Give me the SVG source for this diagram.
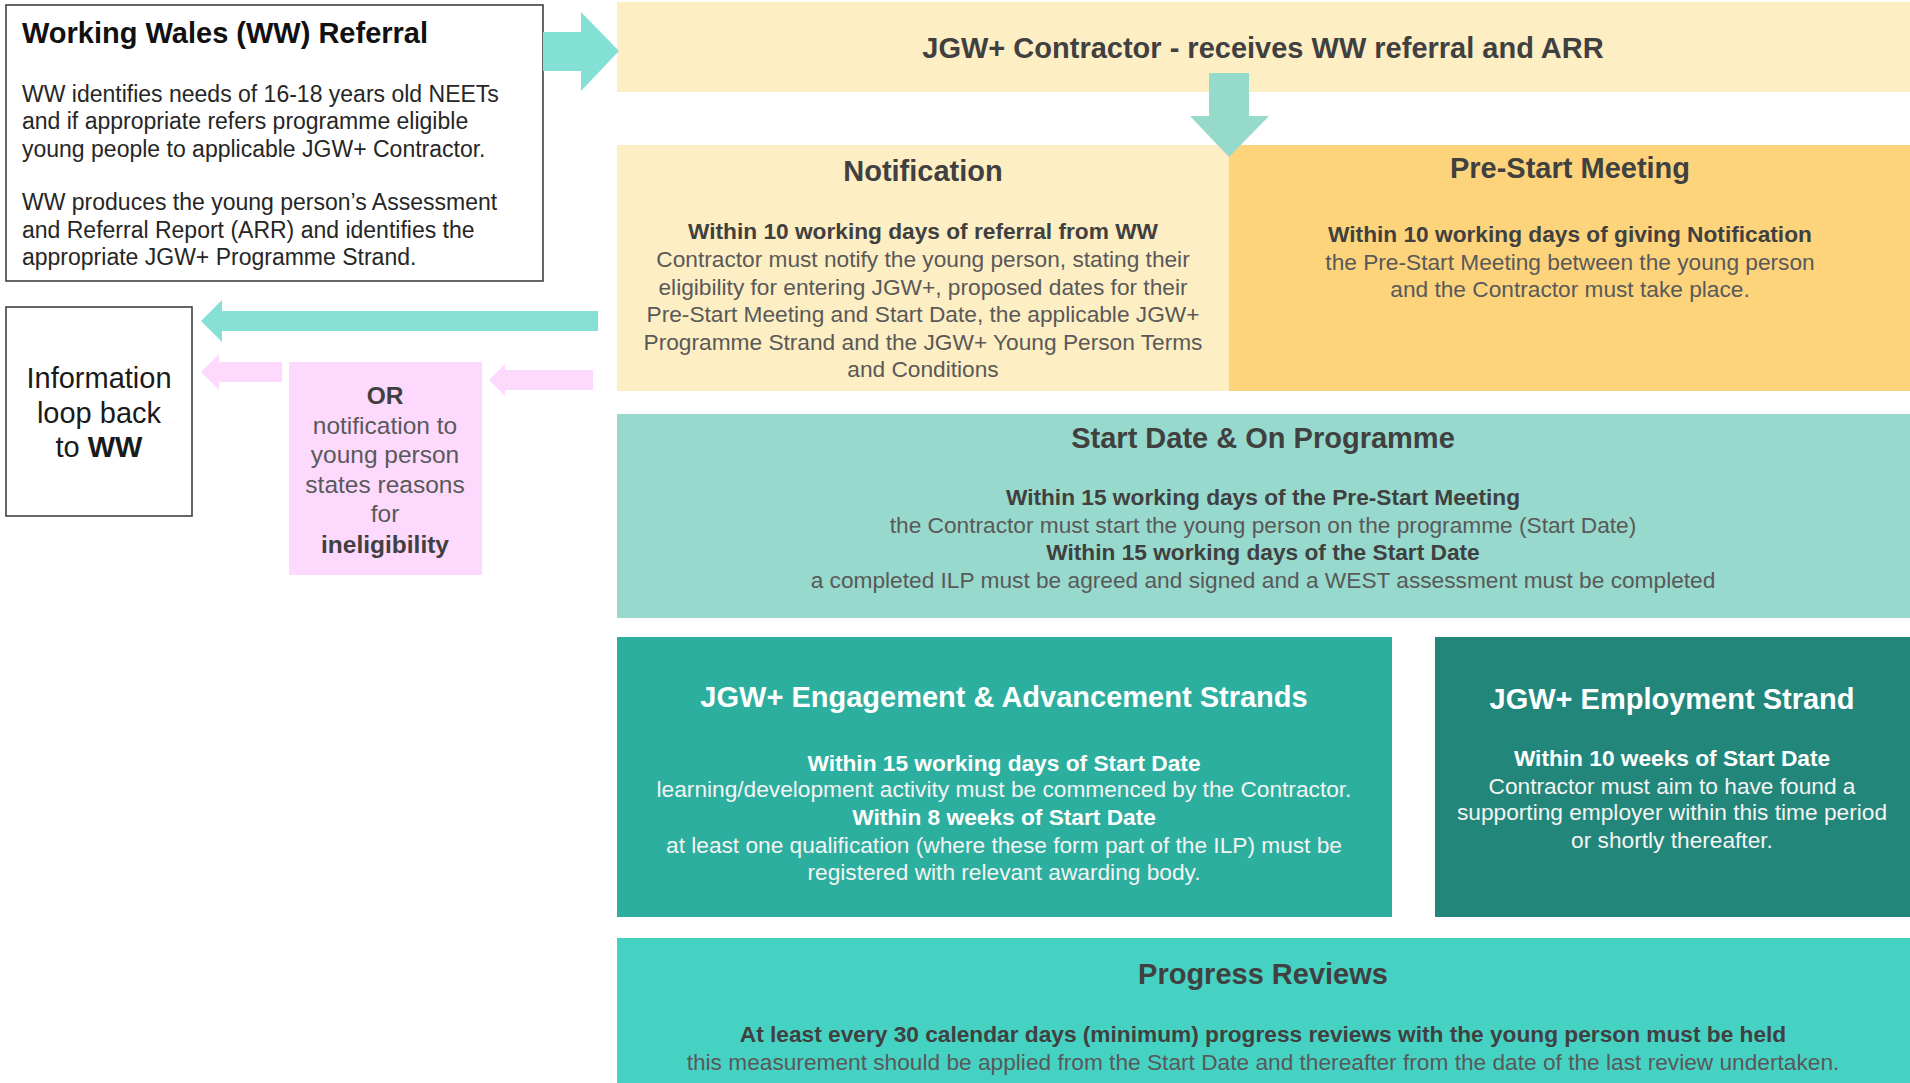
<svg xmlns="http://www.w3.org/2000/svg" width="1910" height="1083" viewBox="0 0 1910 1083">
<style>
text{font-family:"Liberation Sans",Arial,sans-serif;}
.t{font-size:29px;font-weight:bold;fill:#404040;text-anchor:middle;}
.tw{font-size:29px;font-weight:bold;fill:#ffffff;text-anchor:middle;}
.b{font-size:22.7px;font-weight:bold;fill:#404040;text-anchor:middle;}
.r{font-size:22.7px;fill:#595959;text-anchor:middle;}
.bw{font-size:22.7px;font-weight:bold;fill:#ffffff;text-anchor:middle;}
.rw{font-size:22.7px;fill:#f4f4f4;text-anchor:middle;}
.outline{fill:#ffffff;stroke:#404040;stroke-width:1.6;}
</style>
<rect width="1910" height="1083" fill="#ffffff"/>

<g id="ww-referral">
<rect class="outline" x="6" y="5" width="537" height="276"/>
<text x="22" y="43" style="font-size:29px;font-weight:bold;fill:#111111">Working Wales (WW) Referral</text>
<g style="font-size:23px;fill:#262626">
<text x="22" y="102">WW identifies needs of 16-18 years old NEETs</text>
<text x="22" y="129">and if appropriate refers programme eligible</text>
<text x="22" y="157">young people to applicable JGW+ Contractor.</text>
<text x="22" y="210">WW produces the young person’s Assessment</text>
<text x="22" y="238">and Referral Report (ARR) and identifies the</text>
<text x="22" y="265">appropriate JGW+ Programme Strand.</text>
</g>
</g>

<g id="contractor">
<rect x="617" y="2" width="1293" height="90" fill="#feeec3"/>
<text class="t" x="1263" y="58">JGW+ Contractor - receives WW referral and ARR</text>
</g>

<g id="notification">
<rect x="617" y="145" width="612" height="246" fill="#feeec3"/>
<text class="t" x="923" y="181">Notification</text>
<text class="b" x="923" y="239">Within 10 working days of referral from WW</text>
<text class="r" x="923" y="267">Contractor must notify the young person, stating their</text>
<text class="r" x="923" y="295">eligibility for entering JGW+, proposed dates for their</text>
<text class="r" x="923" y="322">Pre-Start Meeting and Start Date, the applicable JGW+</text>
<text class="r" x="923" y="350">Programme Strand and the JGW+ Young Person Terms</text>
<text class="r" x="923" y="377">and Conditions</text>
</g>

<g id="pre-start">
<rect x="1229" y="145" width="681" height="246" fill="#fdd47c"/>
<text class="t" x="1570" y="178">Pre-Start Meeting</text>
<text class="b" x="1570" y="242">Within 10 working days of giving Notification</text>
<text class="r" x="1570" y="270">the Pre-Start Meeting between the young person</text>
<text class="r" x="1570" y="297">and the Contractor must take place.</text>
</g>

<g id="start-date">
<rect x="617" y="414" width="1293" height="204" fill="#97d9cc"/>
<text class="t" x="1263" y="448">Start Date &amp; On Programme</text>
<text class="b" x="1263" y="505">Within 15 working days of the Pre-Start Meeting</text>
<text class="r" x="1263" y="533">the Contractor must start the young person on the programme (Start Date)</text>
<text class="b" x="1263" y="560">Within 15 working days of the Start Date</text>
<text class="r" x="1263" y="588">a completed ILP must be agreed and signed and a WEST assessment must be completed</text>
</g>

<g id="engagement">
<rect x="617" y="637" width="775" height="280" fill="#2caf9e"/>
<text class="tw" x="1004" y="707">JGW+ Engagement &amp; Advancement Strands</text>
<text class="bw" x="1004" y="771">Within 15 working days of Start Date</text>
<text class="rw" x="1004" y="797">learning/development activity must be commenced by the Contractor.</text>
<text class="bw" x="1004" y="825">Within 8 weeks of Start Date</text>
<text class="rw" x="1004" y="853">at least one qualification (where these form part of the ILP) must be</text>
<text class="rw" x="1004" y="880">registered with relevant awarding body.</text>
</g>

<g id="employment">
<rect x="1435" y="637" width="475" height="280" fill="#22877a"/>
<text class="tw" x="1672" y="709">JGW+ Employment Strand</text>
<text class="bw" x="1672" y="766">Within 10 weeks of Start Date</text>
<text class="rw" x="1672" y="794">Contractor must aim to have found a</text>
<text class="rw" x="1672" y="820">supporting employer within this time period</text>
<text class="rw" x="1672" y="848">or shortly thereafter.</text>
</g>

<g id="progress-reviews">
<rect x="617" y="938" width="1293" height="145" fill="#46d2c3"/>
<text class="t" x="1263" y="984">Progress Reviews</text>
<text class="b" x="1263" y="1042">At least every 30 calendar days (minimum) progress reviews with the young person must be held</text>
<text class="r" x="1263" y="1070">this measurement should be applied from the Start Date and thereafter from the date of the last review undertaken.</text>
</g>

<g id="info-loop">
<rect class="outline" x="6" y="307" width="186" height="209"/>
<g style="font-size:29px;fill:#1a1a1a;text-anchor:middle">
<text x="99" y="388">Information</text>
<text x="99" y="423">loop back</text>
<text x="99" y="457">to <tspan font-weight="bold">WW</tspan></text>
</g>
</g>

<g id="ineligibility">
<rect x="289" y="362" width="193" height="213" fill="#fdd9fd"/>
<g style="font-size:24.5px;fill:#595959;text-anchor:middle">
<text x="385" y="404" style="font-weight:bold;fill:#404040">OR</text>
<text x="385" y="434">notification to</text>
<text x="385" y="463">young person</text>
<text x="385" y="493">states reasons</text>
<text x="385" y="522">for</text>
<text x="385" y="553" style="font-weight:bold;fill:#404040">ineligibility</text>
</g>
</g>

<g id="connectors">
<polygon points="543,32 581,32 581,12 619,51 581,91 581,71 543,71" fill="#83e0d5"/>
<polygon points="1209,73 1249,73 1249,116 1269,116 1229,157 1190,116 1209,116" fill="#96dacc"/>
<polygon points="598,311 222,311 222,300 201,321 222,342 222,331 598,331" fill="#86e0d6"/>
<polygon points="282,362 219,362 219,354 201,372 219,390 219,382 282,382" fill="#fdd9fd"/>
<polygon points="593,370 505,370 505,364 489,380 505,396 505,390 593,390" fill="#fdd9fd"/>
</g>
</svg>
